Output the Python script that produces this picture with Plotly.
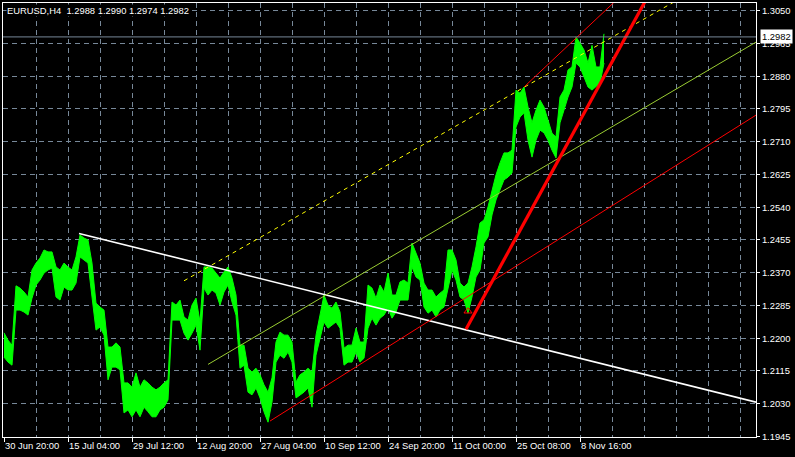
import plotly.graph_objects as go

# ---------------- data ----------------
symbol_text = "EURUSD,H4  1.2988 1.2990 1.2974 1.2982"
last_price = 1.2982

# bar positions (H4 bar index from "30 Jun 20:00"), one sample every 4 bars
bar_step = 4
high = [1.2214, 1.2195, 1.2182, 1.2336, 1.2330, 1.2320, 1.2307, 1.2377, 1.2395, 1.2408,
        1.2429, 1.2424, 1.2424, 1.2385, 1.2377, 1.2395, 1.2385, 1.2377, 1.2411, 1.2468,
        1.2460, 1.2455, 1.2395, 1.2291, 1.2281, 1.2273, 1.2177, 1.2177, 1.2188, 1.2177,
        1.2084, 1.2084, 1.2073, 1.2110, 1.2073, 1.2092, 1.2084, 1.2073, 1.2066, 1.2073,
        1.2084, 1.2092, 1.2294, 1.2286, 1.2299, 1.2255, 1.2247, 1.2286, 1.2304, 1.2242,
        1.2385, 1.2385, 1.2382, 1.2369, 1.2356, 1.2372, 1.2385, 1.2356, 1.2312, 1.2182,
        1.2182, 1.2122, 1.2112, 1.2122, 1.2105, 1.2079, 1.2060, 1.2097, 1.2190, 1.2216,
        1.2208, 1.2208, 1.2190, 1.2086, 1.2105, 1.2112, 1.2122, 1.2112, 1.2208, 1.2260,
        1.2312, 1.2286, 1.2278, 1.2294, 1.2268, 1.2174, 1.2182, 1.2182, 1.2226, 1.2190,
        1.2190, 1.2338, 1.2330, 1.2304, 1.2338, 1.2320, 1.2369, 1.2312, 1.2312, 1.2346,
        1.2351, 1.2343, 1.2447, 1.2421, 1.2395, 1.2343, 1.2325, 1.2325, 1.2307, 1.2317,
        1.2325, 1.2429, 1.2429, 1.2403, 1.2343, 1.2333, 1.2343, 1.2385, 1.2437, 1.2499,
        1.2507, 1.2541, 1.2585, 1.2624, 1.2655, 1.2681, 1.2681, 1.2688, 1.2844, 1.2836,
        1.2852, 1.2800, 1.2759, 1.2792, 1.2818, 1.2800, 1.2766, 1.2732, 1.2722, 1.2826,
        1.2844, 1.2896, 1.2904, 1.2982, 1.2966, 1.2948, 1.2914, 1.2960, 1.2904, 1.2904,
        1.2990]
low = [1.2151, 1.2138, 1.2130, 1.2273, 1.2273, 1.2268, 1.2260, 1.2304, 1.2338, 1.2351,
       1.2369, 1.2377, 1.2382, 1.2307, 1.2299, 1.2333, 1.2325, 1.2325, 1.2343, 1.2411,
       1.2403, 1.2395, 1.2307, 1.2221, 1.2229, 1.2208, 1.2092, 1.2125, 1.2125, 1.2118,
       1.2006, 1.2014, 1.1996, 1.2014, 1.1996, 1.2021, 1.2009, 1.1996, 1.1996, 1.2014,
       1.2021, 1.2040, 1.2247, 1.2247, 1.2247, 1.2213, 1.2195, 1.2213, 1.2234, 1.2169,
       1.2330, 1.2312, 1.2325, 1.2317, 1.2286, 1.2320, 1.2338, 1.2294, 1.2260, 1.2122,
       1.2130, 1.2060, 1.2053, 1.2071, 1.2045, 1.2009, 1.1982, 1.2034, 1.2138, 1.2156,
       1.2148, 1.2164, 1.2138, 1.2045, 1.2053, 1.2060, 1.2071, 1.2021, 1.2156, 1.2200,
       1.2242, 1.2226, 1.2234, 1.2242, 1.2226, 1.2130, 1.2138, 1.2138, 1.2164, 1.2138,
       1.2148, 1.2226, 1.2252, 1.2234, 1.2252, 1.2260, 1.2278, 1.2252, 1.2268, 1.2299,
       1.2299, 1.2299, 1.2385, 1.2359, 1.2351, 1.2281, 1.2265, 1.2273, 1.2255, 1.2273,
       1.2281, 1.2333, 1.2377, 1.2351, 1.2307, 1.2299, 1.2265, 1.2307, 1.2359, 1.2377,
       1.2447, 1.2463, 1.2520, 1.2559, 1.2585, 1.2611, 1.2618, 1.2629, 1.2748, 1.2774,
       1.2785, 1.2714, 1.2670, 1.2714, 1.2740, 1.2733, 1.2714, 1.2688, 1.2668, 1.2759,
       1.2792, 1.2826, 1.2852, 1.2914, 1.2904, 1.2878, 1.2852, 1.2844, 1.2852, 1.2862,
       1.2914]

# drawn objects: (bar index, price) end points
white_trend = ([75, 752], [1.2472, 1.2034])
yellow_dash = ([180, 700], [1.2349, 1.3117])
yellowgreen_line = ([204, 753], [1.2132, 1.2970])
red_thin_low = ([266, 752], [1.1985, 1.2779])
red_thin_up = ([520, 640], [1.2852, 1.3145])
red_thick = ([462, 660], [1.2223, 1.3164])
arrow_mark = ([464], [1.2270])

x_tick_pos = [0, 64, 128, 192, 256, 320, 384, 448, 512, 576]
x_tick_labels = ["30 Jun 20:00", "15 Jul 04:00", "29 Jul 12:00", "12 Aug 20:00",
                 "27 Aug 04:00", "10 Sep 12:00", "24 Sep 20:00", "11 Oct 00:00",
                 "25 Oct 08:00", "8 Nov 16:00"]
y_ticks = [1.1945, 1.2030, 1.2115, 1.2200, 1.2285, 1.2370, 1.2455, 1.2540,
           1.2625, 1.2710, 1.2795, 1.2880, 1.2965, 1.3050]

# ---------------- figure ----------------
bars = [i * bar_step for i in range(len(high))]
GRID = "#778899"
FONT = "Liberation Sans"
FS = 9.4

fig = go.Figure()
fig.add_trace(go.Scatter(x=bars, y=low, mode="lines",
                         line=dict(color="#00FF00", width=1), hoverinfo="skip"))
fig.add_trace(go.Scatter(x=bars, y=high, mode="lines", fill="tonexty",
                         fillcolor="#00FF00",
                         line=dict(color="#00FF00", width=1), hoverinfo="skip"))

def seg(xy, color, width, dash="solid"):
    fig.add_trace(go.Scatter(x=xy[0], y=xy[1], mode="lines",
                             line=dict(color=color, width=width, dash=dash),
                             hoverinfo="skip"))

seg(white_trend, "#FFFFFF", 1.6)
seg(yellow_dash, "#FFFF00", 1, "4px,4px")
seg(yellowgreen_line, "#9ACD32", 1)
seg(red_thin_low, "#FF0000", 1)
seg(red_thin_up, "#FF0000", 1)
seg(red_thick, "#FF0000", 3.2)
fig.add_trace(go.Scatter(x=arrow_mark[0], y=arrow_mark[1], mode="markers",
                         marker=dict(symbol="triangle-up-open", size=7,
                                     color="#FF0000", line=dict(width=1)),
                         hoverinfo="skip"))
# bid line
fig.add_trace(go.Scatter(x=[-1, 752], y=[last_price, last_price], mode="lines",
                         line=dict(color=GRID, width=1), hoverinfo="skip"))

fig.update_layout(
    width=795, height=457,
    margin=dict(l=3, r=39, t=3, b=20, autoexpand=False),
    paper_bgcolor="#000000", plot_bgcolor="#000000",
    showlegend=False,
    font=dict(family=FONT, size=FS, color="#FFFFFF"),
    xaxis=dict(range=[-1, 752], tickvals=x_tick_pos, ticktext=x_tick_labels,
               ticklabelposition="outside right", ticks="outside", ticklen=4,
               tickangle=0, automargin=False,
               tickcolor="#FFFFFF", showgrid=True, gridcolor=GRID,
               griddash="5px,4px", gridwidth=1, zeroline=False,
               showline=True, linecolor="#FFFFFF", linewidth=1, mirror=True,
               minor=dict(dtick=32, tick0=0, showgrid=True, gridcolor=GRID,
                          griddash="5px,4px", gridwidth=1),
               tickfont=dict(family=FONT, size=FS, color="#FFFFFF")),
    yaxis=dict(range=[1.19436, 1.30700], side="right", tickvals=y_ticks,
               ticktext=[f"{v:.4f}" for v in y_ticks], ticks="outside",
               ticklen=3, automargin=False,
               tickcolor="#FFFFFF", showgrid=True, gridcolor=GRID,
               griddash="5px,4px", gridwidth=1, zeroline=False,
               showline=True, linecolor="#FFFFFF", linewidth=1, mirror=True,
               tickfont=dict(family=FONT, size=FS, color="#FFFFFF")),
)

fig.add_annotation(text=symbol_text, xref="paper", yref="paper", x=0, y=1,
                   xanchor="left", yanchor="top", xshift=3, yshift=-1,
                   showarrow=False, bgcolor="#000000", borderpad=0,
                   font=dict(family=FONT, size=FS, color="#FFFFFF"))
fig.add_annotation(text=f"{last_price:.4f}", xref="paper", yref="y", x=1,
                   y=last_price, xanchor="left", yanchor="middle", xshift=4,
                   showarrow=False, bgcolor="#FFFFFF", borderpad=1,
                   font=dict(family=FONT, size=FS, color="#000000"))

fig.write_html("out.html", config={"displayModeBar": False},
               post_script="document.body.style.margin='0px';"
                           "document.body.style.background='#000000';")
